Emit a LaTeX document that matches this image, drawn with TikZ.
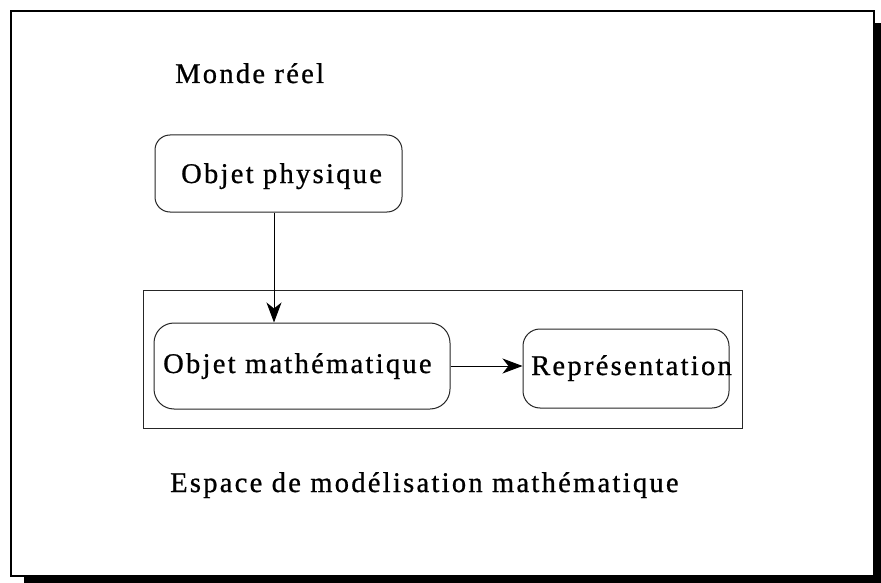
\documentclass[tikz,border=0pt]{standalone}
\usepackage{fontspec}
\setmainfont{Liberation Serif}[LetterSpace=8,FakeBold=0.8]
\usetikzlibrary{arrows.meta}
\begin{document}
\begin{tikzpicture}[x=1pt,y=-1pt,
  rbox/.style={draw=black!85, line width=1pt, inner sep=0pt, fill=white},
  lbl/.style={anchor=base west, inner sep=0pt, font=\fontsize{28.5}{30}\selectfont},
  arr/.style={line width=1pt, -{Stealth[length=20pt,width=15pt,inset=6pt]}}]
\useasboundingbox (0,0) rectangle (881,583);
% frame with shadow
\fill[black] (24,23) rectangle (881,583);
\draw[line width=2pt, fill=white] (11,11) rectangle (874,576);
% inner space rectangle
\node[draw=black!85, line width=1pt, minimum width=599pt, minimum height=138pt, inner sep=0pt] (space) at (442.5,359.5) {};
% boxes
\node[rbox, rounded corners=15pt, minimum width=247pt, minimum height=77pt] (phys) at (278.5,173.5) {};
\node[rbox, rounded corners=20pt, minimum width=296pt, minimum height=86pt] (math) at (302,366) {};
\node[rbox, rounded corners=17pt, minimum width=206pt, minimum height=79pt] (repr) at (626,368.5) {};
% texts
\node[lbl] (tmonde) at (175,83) {Monde réel};
\node[lbl] (tphys) at (181,183) {Objet physique};
\node[lbl] (tmath) at (163,373) {Objet mathématique};
\node[lbl] (trepr) at (531,375) {Représentation};
\node[lbl] (tespace) at (170,492) {Espace de modélisation mathématique};
% connectors
\draw[arr] ([xshift=-4.5pt]phys.south) -- ([xshift=-4.5pt]phys.south |- math.north);
\draw[arr] (math.east) -- (math.east -| repr.west);
\end{tikzpicture}
\end{document}
